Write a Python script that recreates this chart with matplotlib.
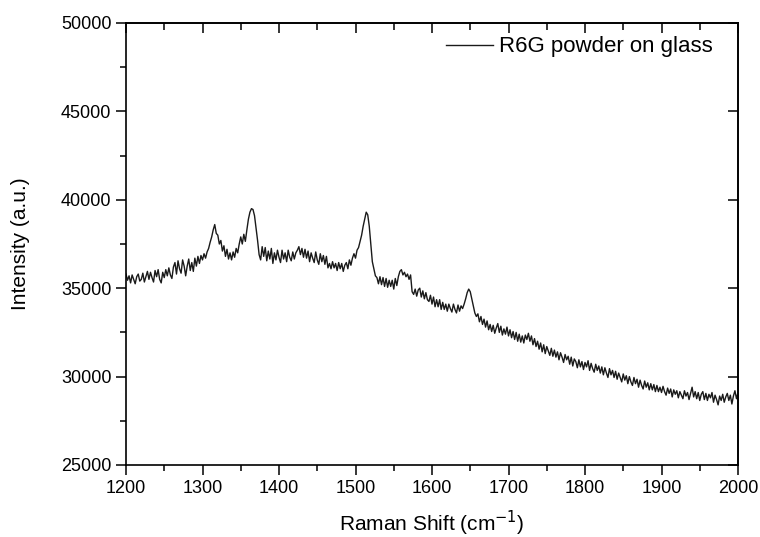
import matplotlib
matplotlib.use("Agg")
import matplotlib.pyplot as plt
from matplotlib.ticker import MultipleLocator

plt.rcParams['font.family'] = ['Liberation Sans', 'DejaVu Sans']

raman_shift = list(range(1200, 2001, 2))
intensity = [
    35800, 35450, 35700, 35300, 35750, 35500, 35250, 35650, 35800, 35400,
    35500, 35850, 35350, 35650, 35950, 35500, 35900, 35600, 35350, 36000,
    35650, 36050, 35500, 35300, 35900, 35600, 36050, 35700, 36150, 35750,
    35550, 36200, 36450, 35800, 36550, 36100, 35850, 36600, 36250, 35700,
    36250, 36650, 36000, 36450, 35950, 36700, 36250, 36800, 36400, 36850,
    36600, 36950, 36700, 37050, 37250, 37600, 37900, 38300, 38600, 38100,
    38000, 37500, 37700, 37100, 37400, 36800, 37200, 36650, 37000, 36600,
    37050, 36750, 37250, 37000, 37500, 37900, 37500, 38050, 37650, 38300,
    38900, 39300, 39500, 39450, 39100, 38400, 37700, 36900, 36600, 37350,
    36800, 37300, 36550, 37100, 36650, 37250, 36400, 37000, 36600, 37150,
    36750, 36450, 37150, 36650, 37000, 36500, 37150, 36750, 36550, 37050,
    36650, 37000, 37150, 37350, 36900, 37250, 36750, 37200, 36700, 37100,
    36500, 37000, 36700, 36450, 37050, 36600, 36350, 36950, 36500, 36850,
    36350, 36800, 36150, 36400, 36100, 36500, 36150, 36400, 36000, 36450,
    36100, 36400, 35950, 36300, 36450, 36100, 36600, 36300, 36700, 36950,
    36700, 37150, 37300, 37650, 38000, 38500, 38900, 39300, 39150, 38500,
    37500, 36500, 36100, 35700, 35600, 35250, 35650, 35200, 35600, 35100,
    35550, 35050, 35450, 35100, 35450, 34950, 35550, 35150, 35650, 35950,
    36050, 35750, 35900, 35650, 35800, 35500, 35750, 34800, 34650, 34950,
    34550, 34900, 35000, 34500, 34850, 34400, 34750, 34350, 34250, 34600,
    34100, 34500, 33950, 34350, 33950, 34350, 33800, 34200, 33800, 34100,
    33700, 34100, 33850, 33650, 34100, 33800, 33600, 34050, 33700, 34000,
    33850, 34100, 34400, 34750, 34950, 34800, 34400, 34000, 33600, 33400,
    33550, 33100, 33400, 32950, 33250, 32800, 33150, 32650, 32950, 32550,
    32900, 32450, 32750, 33000, 32500, 32850, 32350, 32700, 32400, 32800,
    32300, 32650, 32200, 32550, 32100, 32500, 32000, 32400, 31950, 32300,
    31900, 32350, 32100, 32450, 32000, 32300, 31800, 32150, 31700, 32000,
    31550, 31900, 31400, 31800, 31300, 31700, 31450, 31200, 31600, 31150,
    31500, 31100, 31400, 30950, 31350, 31100, 30800, 31250, 30950, 31150,
    30700, 31100, 30600, 31000, 30850, 30500, 30950, 30550, 30850, 30400,
    30800, 30550, 30900, 30350, 30750, 30450, 30250, 30700, 30350, 30600,
    30200, 30550, 30100, 30500, 30200, 29950, 30450, 30100, 30350, 29950,
    30300, 29850, 30200, 29950, 29700, 30150, 29800, 30050, 29600, 30000,
    29700, 29500, 29950, 29600, 29850, 29400, 29800, 29500, 29300, 29750,
    29400, 29650, 29250, 29600, 29250, 29550, 29150, 29500, 29150, 29400,
    29100, 29450, 29150, 28950, 29350, 29050, 29300, 28850, 29250, 29000,
    29200, 28800, 29150, 28950, 28750, 29200, 28900, 29100, 28700, 29050,
    29400, 28850, 29150, 28750, 29100, 28650, 29000, 29150, 28700, 29050,
    28650, 29000, 28800, 29100, 28550, 28950, 28700, 28400, 28900, 28650,
    29000, 28550, 28850, 29050, 28650, 28950, 28450, 28900, 29200, 28750,
    29100,
]
series_label = "R6G powder on glass"
x_ticks = [1200, 1300, 1400, 1500, 1600, 1700, 1800, 1900, 2000]
y_ticks = [25000, 30000, 35000, 40000, 45000, 50000]

fig = plt.figure(figsize=(7.6, 5.37), dpi=100)
ax = fig.add_axes([126/760, 1-465/537, (738-126)/760, (465-23)/537])

ax.plot(raman_shift, intensity, color='#1a1a1a', lw=1.0, label=series_label)

ax.set_xlim(1200, 2000)
ax.set_ylim(25000, 50000)
ax.set_xticks(x_ticks)
ax.set_yticks(y_ticks)
ax.xaxis.set_minor_locator(MultipleLocator(50))
ax.yaxis.set_minor_locator(MultipleLocator(2500))
ax.tick_params(which='major', direction='out', length=7, width=1.1, labelsize=13, colors='black')
ax.tick_params(which='minor', direction='out', length=4, width=1.1)
ax.tick_params(top=False, right=False, which='both')

for s in ax.spines.values():
    s.set_linewidth(1.2)

secx = ax.secondary_xaxis('top')
secx.set_xticks(x_ticks)
secx.xaxis.set_minor_locator(MultipleLocator(50))
secx.tick_params(which='major', direction='in', length=7, width=1.1, labeltop=False)
secx.tick_params(which='minor', direction='in', length=5, width=1.1)
secx.spines['top'].set_linewidth(1.2)

secy = ax.secondary_yaxis('right')
secy.set_yticks(y_ticks)
secy.tick_params(which='major', direction='in', length=7, width=1.1, labelright=False)
secy.tick_params(which='minor', right=False)
secy.spines['right'].set_linewidth(1.2)

ax.set_xlabel("Raman Shift (cm$^{-1}$)", fontsize=15, labelpad=9)
ax.set_ylabel("Intensity (a.u.)", fontsize=15, labelpad=22)

leg = ax.legend(loc='upper right', frameon=False, fontsize=16, handlelength=2.1,
                handletextpad=0.3, bbox_to_anchor=(1.0 - 5/612, 1.015))

fig.savefig("out.png", dpi=100)
